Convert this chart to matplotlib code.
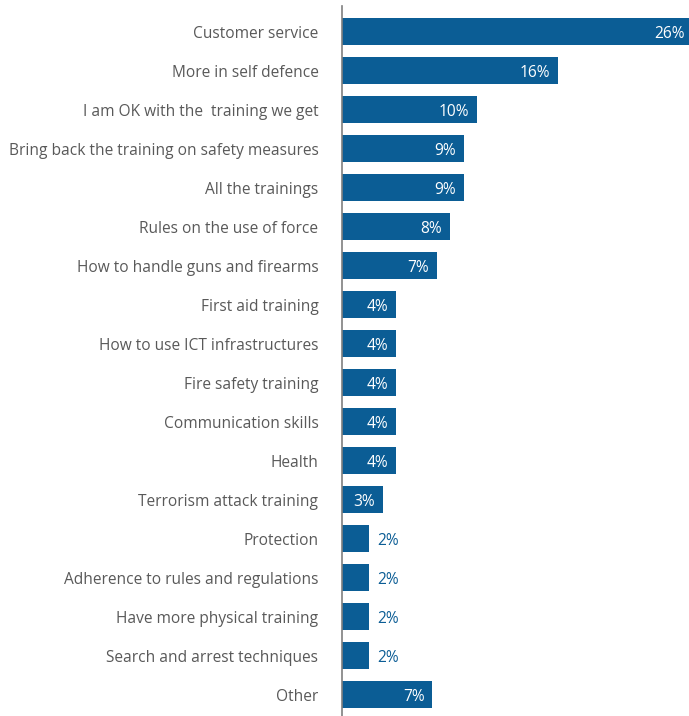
import matplotlib
matplotlib.use("Agg")
from matplotlib import pyplot as plt
import numpy as np

plt.rcParams['font.family'] = ['Open Sans', 'DejaVu Sans']

# data
categories = ["Customer service", "More in self defence", "I am OK with the  training we get",
              "Bring back the training on safety measures", "All the trainings",
              "Rules on the use of force", "How to handle guns and firearms",
              "First aid training", "How to use ICT infrastructures", "Fire safety training",
              "Communication skills", "Health", "Terrorism attack training", "Protection",
              "Adherence to rules and regulations", "Have more physical training",
              "Search and arrest techniques", "Other"]
values = [26, 16, 10, 9, 9, 8, 7, 4, 4, 4, 4, 4, 3, 2, 2, 2, 2, 6.7]
labels = ["26%", "16%", "10%", "9%", "9%", "8%", "7%", "4%", "4%", "4%", "4%", "4%",
          "3%", "2%", "2%", "2%", "2%", "7%"]

bar_col = "#0B5D95"
txt_col = "#595959"

W, H = 689, 716
fig = plt.figure(figsize=(W/100, H/100), dpi=100)
ax = fig.add_axes([342/W, 0, 1 - 342/W, 710/H])

y = np.arange(len(categories))
ax.barh(y, values, height=0.71, color=bar_col)

ax.set_xlim(0, 25.7)
ax.set_ylim((716 - 31.5) / 39, -0.654)

ax.set_yticks(y)
ax.set_yticklabels(categories, fontsize=11.2, color=txt_col)
ax.tick_params(axis='y', length=0, pad=17)
ax.set_xticks([])

for s in ["top", "right", "bottom"]:
    ax.spines[s].set_visible(False)
ax.spines["left"].set_color("#7f7f7f")
ax.spines["left"].set_linewidth(1.2)

# value labels
px = 25.7 / (W - 342)
for yi, v, lab in zip(y, values, labels):
    if v >= 3:
        ax.text(v - 8*px, yi, lab, ha='right', va='center_baseline', color='white', fontsize=11.2)
    else:
        ax.text(v + 8*px, yi, lab, ha='left', va='center_baseline', color=bar_col, fontsize=11.2)

fig.savefig("out.png", dpi=100)
